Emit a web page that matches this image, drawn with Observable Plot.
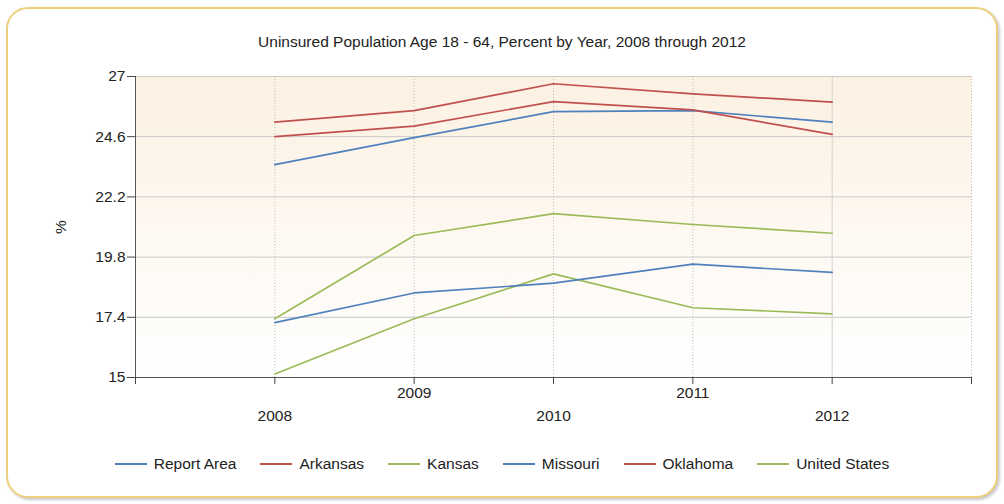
<!DOCTYPE html>
<html>
<head>
<meta charset="utf-8">
<script src="https://cdn.jsdelivr.net/npm/d3@7"></script>
<script src="https://cdn.jsdelivr.net/npm/@observablehq/plot@0.6"></script>
<style>
  html, body { margin: 0; padding: 0; }
  body { width: 1004px; height: 504px; background: #ffffff; position: relative; overflow: hidden;
         font-family: "Liberation Sans", Arial, sans-serif; color: #222; }
  #frame { position: absolute; left: 6px; top: 7px; width: 992px; height: 491px; box-sizing: border-box;
           border: 2px solid #EDCF7E; border-radius: 22px; box-shadow: 2px 2px 3px rgba(0,0,0,0.22); background: #fff; }
  #title { position: absolute; left: 0; top: 33px; width: 1004px; text-align: center; font-size: 15.5px; color: #222; }
  #chart { position: absolute; left: 0; top: 56px; }
  #legend { position: absolute; left: 0; top: 455px; width: 1004px; display: flex; justify-content: center;
            align-items: center; font-size: 15.5px; color: #222; }
  .item { display: flex; align-items: center; margin: 0 12px; }
  .sw { width: 32px; height: 2px; margin-right: 7px; }
</style>
</head>
<body>
<div id="frame"></div>
<div id="title">Uninsured Population Age 18 - 64, Percent by Year, 2008 through 2012</div>
<div id="chart"></div>
<div id="legend"></div>
<script>
// ---- data ----
const years = [2008, 2009, 2010, 2011, 2012];
const reportArea   = [23.49, 24.56, 25.60, 25.64, 25.18];
const arkansas     = [25.18, 25.64, 26.71, 26.31, 25.98];
const kansas       = [15.14, 17.34, 19.13, 17.78, 17.54];
const missouri     = [17.19, 18.37, 18.76, 19.52, 19.19];
const oklahoma     = [24.60, 25.02, 26.00, 25.67, 24.69];
const unitedStates = [17.34, 20.66, 21.53, 21.10, 20.75];
const seriesNames  = ["Report Area", "Arkansas", "Kansas", "Missouri", "Oklahoma", "United States"];
const yTicks = [15, 17.4, 19.8, 22.2, 24.6, 27];
const xTickMarks = [2007, 2008, 2009, 2010, 2011, 2012, 2013];
const xLabelsHigh = [2009, 2011];
const xLabelsLow = [2008, 2010, 2012];

// ---- styling ----
const blue = "#4F81BD", red = "#C0504D", green = "#9BBB59";
const seriesValues = [reportArea, arkansas, kansas, missouri, oklahoma, unitedStates];
const seriesColors = [blue, red, green, blue, red, green];

const rows = [];
seriesNames.forEach((name, i) => {
  years.forEach((yr, j) => rows.push({ series: name, year: yr, value: seriesValues[i][j], color: seriesColors[i] }));
});

const svg = Plot.plot({
  width: 1004,
  height: 384,
  marginLeft: 135,
  marginRight: 33,
  marginTop: 20,
  marginBottom: 63,
  style: { fontFamily: "'Liberation Sans', Arial, sans-serif", fontSize: "15.5px", color: "#222", background: "transparent", overflow: "visible" },
  x: { domain: [2007, 2013] },
  y: { domain: [15, 27] },
  color: { type: "identity" },
  marks: [
    Plot.frame({ fill: "url(#bgGrad)", stroke: "none" }),
    Plot.gridY(yTicks, { stroke: "#c9c9c9", strokeOpacity: 1 }),
    Plot.ruleX([2008, 2009, 2010, 2011, 2013], { stroke: "#bdbdbd", strokeDasharray: "1,2" }),
    Plot.ruleX([2012], { stroke: "#d2d2d2" }),
    Plot.lineY(rows, { x: "year", y: "value", z: "series", stroke: "color", strokeWidth: 1.7 }),
    Plot.ruleX([2007], { stroke: "#555" }),
    Plot.ruleY([15], { stroke: "#555" }),
    Plot.axisY({ ticks: yTicks, tickSize: 8, tickPadding: 2, tickFormat: d => String(d),
                 label: "%", labelAnchor: "center", labelArrow: "none", labelOffset: 81, stroke: "#444" }),
    Plot.axisX({ ticks: xTickMarks, tickSize: 7, tickFormat: () => "", label: null, stroke: "#444" }),
    Plot.axisX({ ticks: xLabelsHigh, tickSize: 0, tickPadding: 9, tickFormat: d => String(d), label: null }),
    Plot.axisX({ ticks: xLabelsLow, tickSize: 0, tickPadding: 32, tickFormat: d => String(d), label: null })
  ]
});

d3.select(svg).insert("defs", ":first-child").html(
  '<linearGradient id="bgGrad" x1="0" y1="0" x2="0" y2="1">' +
  '<stop offset="0%" stop-color="#FCF1E2"/>' +
  '<stop offset="100%" stop-color="#FFFFFF"/>' +
  '</linearGradient>'
);
document.getElementById("chart").appendChild(svg);

// ---- legend ----
const legend = document.getElementById("legend");
seriesNames.forEach((name, i) => {
  const item = document.createElement("div");
  item.className = "item";
  const sw = document.createElement("div");
  sw.className = "sw";
  sw.style.background = seriesColors[i];
  const t = document.createElement("span");
  t.textContent = name;
  item.appendChild(sw);
  item.appendChild(t);
  legend.appendChild(item);
});
</script>
</body>
</html>
